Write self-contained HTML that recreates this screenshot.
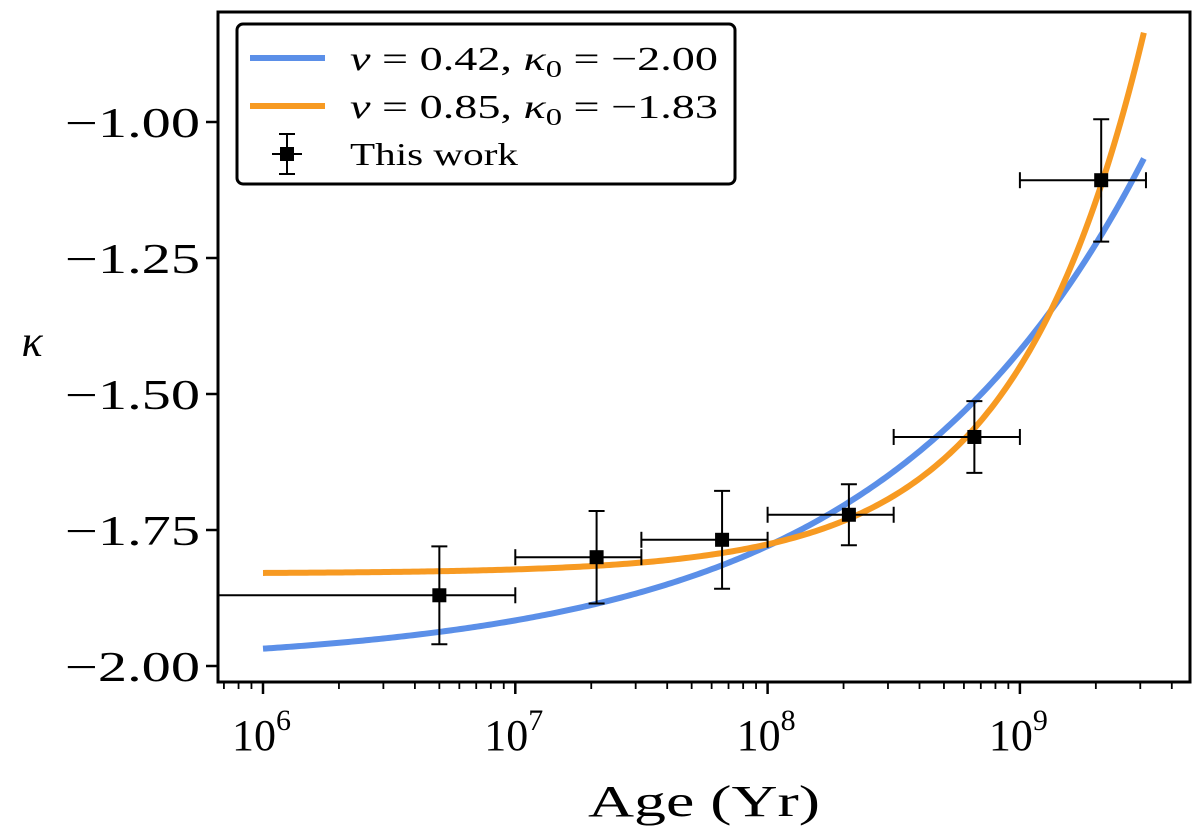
<!DOCTYPE html>
<html><head><meta charset="utf-8"><style>
body{margin:0;background:#fff;}
text{font-family:"Liberation Serif","DejaVu Serif",serif;fill:#000;}
</style></head><body>
<svg id="chart" width="1200" height="834" viewBox="0 0 1200 834" xmlns="http://www.w3.org/2000/svg">
<defs><clipPath id="clip"><rect x="218" y="12" width="972" height="670"/></clipPath></defs>
<g id="plot"></g>
</svg>
<script>
const ages=[5e6,2.1e7,6.6e7,2.1e8,6.6e8,2.1e9];
const kappa=[-1.87,-1.80,-1.768,-1.722,-1.579,-1.107];
const kErrLo=[0.09,0.085,0.09,0.056,0.066,0.113];
const kErrHi=[0.09,0.085,0.09,0.056,0.066,0.112];
const ageLo=[1e5,1e7,3.16e7,1e8,3.16e8,1e9];
const ageHi=[1e7,3.16e7,1e8,3.16e8,1e9,3.16e9];
const fitNu=[0.42,0.85];
const fitK0=[-2.00,-1.83];
const fitAmp=[0.58,0.38];
const fitColors=['#5b8fe8','#f79a22'];
const fitNuLabels=['0.42','0.85'];
const fitK0Labels=['−2.00','−1.83'];
const yTicks=[-1.00,-1.25,-1.50,-1.75,-2.00];
const yTickLabels=['−1.00','−1.25','−1.50','−1.75','−2.00'];
const xDecades=[6,7,8,9];

const NS='http://www.w3.org/2000/svg';
const L=218,R=1190,T=12,B=682;
const X=t=>263+(Math.log10(t)-6)*252.3;
const Y=k=>122+(-1-k)*544;
const g=document.getElementById('plot');
function mk(tag,attrs,parent){const e=document.createElementNS(NS,tag);for(const k in attrs)e.setAttribute(k,attrs[k]);(parent||g).appendChild(e);return e;}

const cg=mk('g',{'clip-path':'url(#clip)'});
fitNu.forEach((nu,i)=>{
  let d='';
  for(let j=0;j<=300;j++){const lt=6+j/300*(Math.log10(3.1e9)-6);const t=Math.pow(10,lt);
    const k=fitK0[i]+fitAmp[i]*Math.pow(t/1e9,nu);d+=(j?'L':'M')+X(t).toFixed(2)+','+Y(k).toFixed(2);}
  const p=mk('path',{d:d,fill:'none',stroke:fitColors[i],'stroke-width':6},cg);
  
  
});
ages.forEach((a,i)=>{
  const pg=mk('g',{},cg);
  
  
  const x=X(a),y=Y(kappa[i]),y1=Y(kappa[i]+kErrHi[i]),y2=Y(kappa[i]-kErrLo[i]),x1=X(ageLo[i]),x2=X(ageHi[i]);
  mk('line',{x1:x,x2:x,y1:y1,y2:y2,stroke:'#000','stroke-width':2},pg);
  mk('line',{x1:x-8,x2:x+8,y1:y1,y2:y1,stroke:'#000','stroke-width':2},pg);
  mk('line',{x1:x-8,x2:x+8,y1:y2,y2:y2,stroke:'#000','stroke-width':2},pg);
  mk('line',{x1:x1,x2:x2,y1:y,y2:y,stroke:'#000','stroke-width':2},pg);
  [x1,x2].forEach(xx=>mk('line',{x1:xx,x2:xx,y1:y-8,y2:y+8,stroke:'#000','stroke-width':2},pg));
  mk('rect',{x:x-7,y:y-7,width:14,height:14,fill:'#000'},pg);
});
const fr=mk('rect',{x:L,y:T,width:R-L,height:B-T,fill:'none',stroke:'#000','stroke-width':3});

const xa=mk('g',{});
for(let d=5;d<=9;d++){for(let m=1;m<10;m++){const x=X(m*Math.pow(10,d));if(x<L||x>R)continue;
  mk('line',{x1:x,x2:x,y1:B,y2:B+(m===1?12:7),stroke:'#000','stroke-width':m===1?2.5:1.8},xa);}}
xDecades.forEach(d=>{const x=X(Math.pow(10,d));
  const t=mk('text',{x:x-31,y:B+68,'font-size':44},xa);
  t.innerHTML='10<tspan dy="-20" font-size="30">'+d+'</tspan>';});
const xl=mk('text',{x:588,y:816,'font-size':44,textLength:232,lengthAdjust:'spacingAndGlyphs'});xl.textContent='Age (Yr)';

const ya=mk('g',{});
yTicks.forEach((v,i)=>{const y=Y(v);mk('line',{x1:L-12,x2:L,y1:y,y2:y,stroke:'#000','stroke-width':2.5},ya);
  const t=mk('text',{x:65,y:y+15,'font-size':42,textLength:135,lengthAdjust:'spacingAndGlyphs'},ya);t.textContent=yTickLabels[i];});
const yl=mk('text',{x:32,y:356,'text-anchor':'middle','font-size':44,'font-style':'italic'});yl.textContent='κ';

const lg=mk('g',{});
mk('rect',{x:237,y:24,width:498,height:160,rx:6,fill:'#fff',stroke:'#000','stroke-width':3},lg);
fitNu.forEach((s,i)=>{const y=58+i*48;
  mk('line',{x1:250,x2:325,y1:y,y2:y,stroke:fitColors[i],'stroke-width':6},lg);
  const t=mk('text',{x:350,y:y+12,'font-size':34,textLength:368,lengthAdjust:'spacingAndGlyphs'},lg);
  t.innerHTML='<tspan font-style="italic">ν</tspan> = '+fitNuLabels[i]+',  <tspan font-style="italic">κ</tspan><tspan font-size="24" dy="7">0</tspan><tspan dy="-7"> = '+fitK0Labels[i]+'</tspan>';
  });
{const y=154,x=287;
 mk('line',{x1:x,x2:x,y1:y-20,y2:y+20,stroke:'#000','stroke-width':2},lg);
 mk('line',{x1:x-8,x2:x+8,y1:y-20,y2:y-20,stroke:'#000','stroke-width':2},lg);
 mk('line',{x1:x-8,x2:x+8,y1:y+20,y2:y+20,stroke:'#000','stroke-width':2},lg);
 mk('line',{x1:x-15,x2:x+15,y1:y,y2:y,stroke:'#000','stroke-width':2},lg);
 mk('rect',{x:x-7,y:y-7,width:14,height:14,fill:'#000'},lg);
 const t=mk('text',{x:350,y:y+11,'font-size':32,textLength:168,lengthAdjust:'spacingAndGlyphs'},lg);t.textContent='This work';
 }
</script>
</body></html>
